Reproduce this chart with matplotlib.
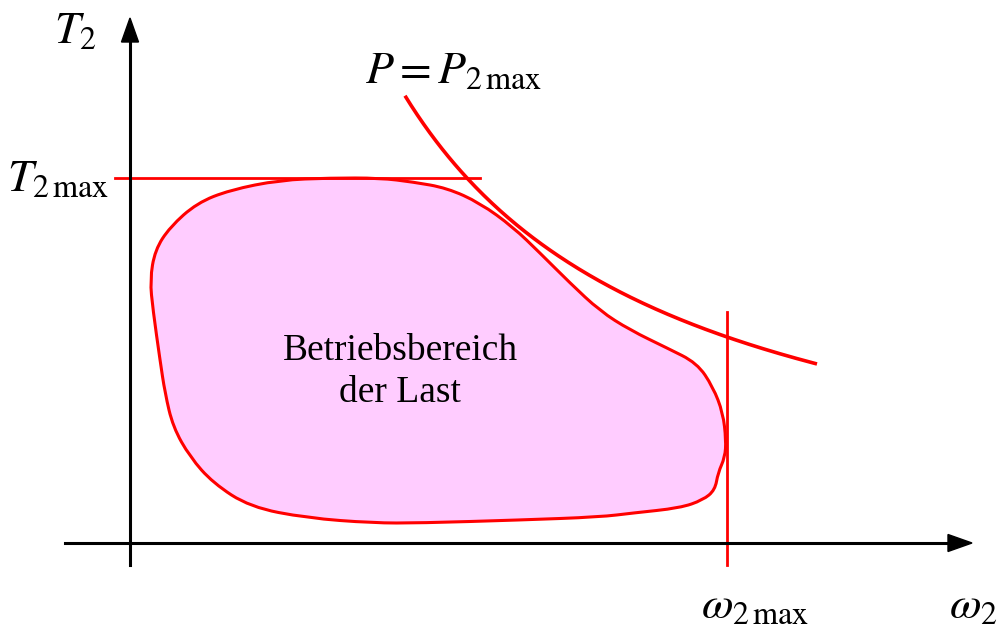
import numpy as np
import matplotlib
matplotlib.use("Agg")
import matplotlib.pyplot as plt
from matplotlib.path import Path
from matplotlib.patches import PathPatch, Polygon

plt.rcParams["mathtext.fontset"] = "stix"
plt.rcParams["font.family"] = ["Liberation Serif", "DejaVu Serif"]

# Characteristic values of the load (units: 1 = 100 px)
T2_MAX = 3.65      # maximum torque
W2_MAX = 5.97      # maximum speed
P2_MAX = 12.3      # maximum power, P = omega * T

# Outline of the load operating region (omega, T), clockwise from the left
region_w = [0.20, 0.25, 0.40, 0.67, 1.00, 1.50, 2.00, 2.50, 2.83, 3.17, 3.50,
            3.83, 4.10, 4.40, 4.70, 5.00, 5.37, 5.67, 5.83, 5.93, 5.96,
            5.95, 5.88, 5.85, 5.73, 5.50, 5.03, 4.70, 3.90, 2.90, 2.43, 1.77,
            1.20, 0.83, 0.60, 0.43, 0.35, 0.30, 0.23]
region_t = [2.63, 2.93, 3.16, 3.40, 3.53, 3.63, 3.65, 3.65, 3.61, 3.55, 3.40,
            3.16, 2.90, 2.60, 2.32, 2.13, 1.95, 1.80, 1.56, 1.30, 1.03,
            0.86, 0.70, 0.53, 0.43, 0.35, 0.30, 0.26, 0.23, 0.20, 0.20, 0.25,
            0.36, 0.60, 0.86, 1.16, 1.50, 1.83, 2.33]

# Extent of the constant-power curve and the limit lines
p_curve_w = (2.75, 6.87)
t2max_line_w = (-0.15, 3.50)
w2max_line_t = (-0.22, 2.31)

RED = "#ff0000"
PINK = "#ffccff"

fig = plt.figure(figsize=(9.99, 6.28), dpi=100)
ax = fig.add_axes([0, 0, 1, 1])
ax.set_xlim(-1.30, 8.69)
ax.set_ylim(-0.85, 5.43)
ax.axis("off")

# Operating region: smooth closed outline (quadratic Bezier through midpoints)
pts = np.column_stack([region_w, region_t])
n = len(pts)
mids = (pts + np.roll(pts, -1, axis=0)) / 2
verts = [mids[-1]]
codes = [Path.MOVETO]
for i in range(n):
    verts += [pts[i], mids[i]]
    codes += [Path.CURVE3, Path.CURVE3]
verts.append(mids[-1])
codes.append(Path.CLOSEPOLY)
ax.add_patch(PathPatch(Path(verts, codes), facecolor=PINK, edgecolor=RED,
                       lw=2.2, zorder=2))

# Constant power curve P = P2max
w = np.linspace(*p_curve_w, 200)
ax.plot(w, P2_MAX / w, color=RED, lw=2.6, zorder=3, solid_capstyle="butt")

# Torque and speed limits
ax.plot(t2max_line_w, [T2_MAX, T2_MAX], color=RED, lw=2.0, zorder=3)
ax.plot([W2_MAX, W2_MAX], w2max_line_t, color=RED, lw=2.0, zorder=3)

# Coordinate axes with arrow heads
ax_end_w, ax_end_t = 8.42, 5.25
ax.plot([-0.65, ax_end_w - 0.1], [0, 0], color="black", lw=2.2, zorder=4)
ax.plot([0, 0], [-0.22, ax_end_t - 0.1], color="black", lw=2.2, zorder=4)
head_len, head_half = 0.24, 0.085
ax.add_patch(Polygon([[ax_end_w, 0], [ax_end_w - head_len, head_half],
                      [ax_end_w - head_len, -head_half]],
                     closed=True, color="black", zorder=5))
ax.add_patch(Polygon([[0, ax_end_t], [head_half, ax_end_t - head_len],
                      [-head_half, ax_end_t - head_len]],
                     closed=True, color="black", zorder=5))

# Labels
fs = 33
ax.text(-0.55, 5.11, r"$T_2$", fontsize=fs, ha="center", va="center")
ax.text(-0.21, 3.63, r"$T_{2\,\mathrm{max}}$", fontsize=fs, ha="right", va="center")
ax.text(3.24, 4.71, r"$P = P_{2\,\mathrm{max}}$", fontsize=fs, ha="center", va="center")
ax.text(6.25, -0.64, r"$\omega_{2\,\mathrm{max}}$", fontsize=fs, ha="center", va="center")
ax.text(8.43, -0.64, r"$\omega_2$", fontsize=fs, ha="center", va="center")

ax.text(2.70, 1.83, "Betriebsbereich", fontsize=27, ha="center", va="baseline", zorder=6)
ax.text(2.70, 1.41, "der Last", fontsize=27, ha="center", va="baseline", zorder=6)

fig.savefig("out.png", dpi=100)
